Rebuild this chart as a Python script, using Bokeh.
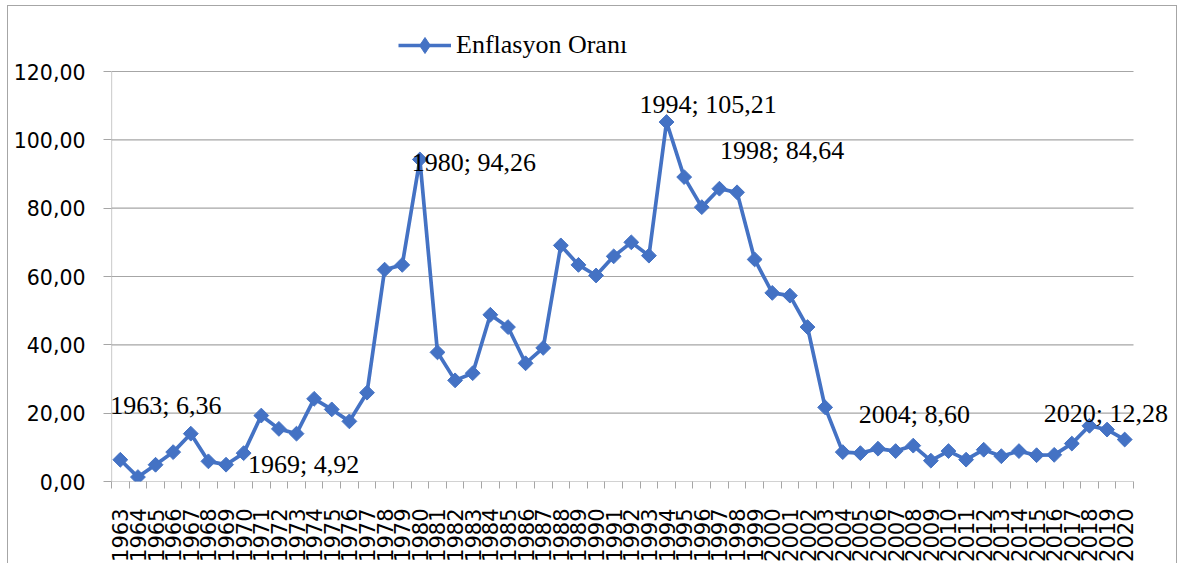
import numpy as np
from bokeh.plotting import figure
from bokeh.models import (Range1d, FixedTicker, Legend, LegendItem, ColumnDataSource,
                          CDSView, IndexFilter)
from bokeh.core.properties import value
from bokeh.embed import file_html
from bokeh.resources import INLINE

years = list(range(1963, 2021))
rates = [6.36, 1.3, 4.9, 8.6, 14.0, 5.9, 4.92, 8.3, 19.3, 15.4,
         14.0, 24.2, 21.1, 17.6, 26.0, 62.0, 63.4, 94.26, 37.8, 29.6,
         31.7, 48.8, 45.2, 34.6, 39.1, 69.1, 63.4, 60.3, 65.9, 70.0,
         66.1, 105.21, 89.1, 80.3, 85.7, 84.64, 65.0, 55.2, 54.4, 45.2,
         21.7, 8.60, 8.3, 9.6, 8.9, 10.5, 6.1, 8.9, 6.4, 9.3,
         7.4, 8.9, 7.7, 7.8, 11.1, 16.3, 15.2, 12.28]
y_ticks = [0, 20, 40, 60, 80, 100, 120]
series_name = "Enflasyon Oranı"
labelled_years = [1963, 1969, 1980, 1994, 1998, 2004, 2020]
label_dx = [-10, 22, -8, -27, -17, 16, -81]
label_dy = [-54, 0, 3, -18, -42, -38, -26]

BLUE = "#4472C4"
GRAY = "#a6a6a6"
SERIF = "Liberation Serif"

# layout (pixels)
W, H = 1170, 558
LEFT, BOTTOM = 103, 83           # panels
PLOT_W, PLOT_H = 1022, 410       # visible plot-area size
n = len(years)
y_max = y_ticks[-1]
px_x = PLOT_W / n
px_y = PLOT_H / y_max
frame_w = W - LEFT
frame_h = H - BOTTOM
x_end = -0.5 + frame_w / px_x
y_end = frame_h / px_y

idx = list(range(n))
src = ColumnDataSource(dict(x=idx, y=rates))

p = figure(width=W, height=H, output_backend="svg", toolbar_location=None,
           x_range=Range1d(-0.5, x_end), y_range=Range1d(0, y_end),
           min_border_left=LEFT, min_border_right=0, min_border_top=0, min_border_bottom=BOTTOM)
p.outline_line_color = None
p.background_fill_color = "white"
p.border_fill_color = "white"
p.styles = {"margin-left": "7px", "margin-top": "5px",
            "border-top": "1px solid #a6a6a6", "border-left": "1px solid #a6a6a6",
            "border-right": "1px solid #a6a6a6"}

# grid lines and axis lines limited to the plot area
p.xgrid.grid_line_color = None
p.ygrid.grid_line_color = None
x0, x1 = -0.5, n - 0.5
p.segment(x0=[x0] * (len(y_ticks) - 1), x1=[x1] * (len(y_ticks) - 1),
          y0=y_ticks[1:], y1=y_ticks[1:], line_color=GRAY, line_width=1.2)
p.segment(x0=[x0, x0], x1=[x1, x0], y0=[0, 0], y1=[0, y_max], line_color=GRAY, line_width=1.2)

line_r = p.line("x", "y", source=src, line_color=BLUE, line_width=3.7)
# legend symbol (the legend does not rotate markers); its single point hides under the first marker
leg_marker = p.scatter("x", "y", source=src, view=CDSView(filter=IndexFilter(indices=[0])),
                       marker="diamond", size=4, fill_color=BLUE, line_color=BLUE)
pts_r = p.scatter("x", "y", source=src, marker="square", angle=np.pi / 4, size=10.5,
                  fill_color=BLUE, line_color=BLUE)

# x axis
p.xaxis.ticker = FixedTicker(ticks=idx, minor_ticks=[i - 0.5 for i in range(n + 1)])
p.xaxis.major_label_overrides = {i: str(y) for i, y in zip(idx, years)}
p.xaxis.major_label_orientation = np.pi / 2
p.xaxis.major_tick_line_color = None
p.xaxis.major_tick_out = 0
p.xaxis.major_tick_in = 0
p.xaxis.minor_tick_out = 7
p.xaxis.minor_tick_in = 0
p.xaxis.minor_tick_line_color = GRAY
p.xaxis.axis_line_color = None
p.xaxis.major_label_standoff = 20
p.xaxis.major_label_text_font = "DejaVu Sans"
p.xaxis.major_label_text_font_size = "21px"
p.xaxis.major_label_text_color = "black"

# y axis
p.yaxis.ticker = FixedTicker(ticks=y_ticks, minor_ticks=[])
p.yaxis.major_label_overrides = {t: f"{t:.2f}".replace(".", ",") for t in y_ticks}
p.yaxis.axis_line_color = None
p.yaxis.major_tick_line_color = GRAY
p.yaxis.major_tick_out = 8
p.yaxis.major_tick_in = 0
p.yaxis.minor_tick_line_color = None
p.yaxis.major_label_standoff = 18
p.yaxis.major_label_text_font = "DejaVu Sans"
p.yaxis.major_label_text_font_size = "20.5px"
p.yaxis.major_label_text_color = "black"

# data labels
lx, ly, lt = [], [], []
for yr in labelled_years:
    i = years.index(yr)
    lx.append(i)
    ly.append(rates[i])
    lt.append(f"{yr}; {rates[i]:.2f}".replace(".", ","))
lab_src = ColumnDataSource(dict(x=lx, y=ly, t=lt, dx=label_dx, dy=label_dy))
p.text("x", "y", text="t", source=lab_src, x_offset="dx", y_offset="dy",
       text_font=value(SERIF), text_font_size="26px", text_color="black",
       text_align="left", text_baseline="middle")

legend = Legend(items=[LegendItem(label=series_name, renderers=[line_r, leg_marker])],
                location=(287, frame_h - 59), orientation="horizontal",
                label_text_font=SERIF, label_text_font_size="26px",
                label_text_color="black",
                glyph_width=53, glyph_height=40, label_standoff=5,
                padding=0, margin=0, border_line_color=None,
                background_fill_alpha=0)
p.add_layout(legend, "center")

open("out.html", "w").write(file_html(p, INLINE))
